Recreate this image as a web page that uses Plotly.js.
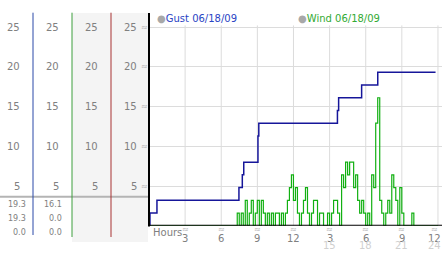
<!DOCTYPE html>
<html><head><meta charset="utf-8">
<script src="https://cdn.plot.ly/plotly-3.0.1.min.js"></script>
<style>html,body{margin:0;padding:0;background:#fff}#chart{width:442px;height:253px}</style>
</head><body><div id="chart"></div>
<script>
// ---- data ----
const gustLabel = 'Gust 06/18/09';
const windLabel = 'Wind 06/18/09';
const gustHours  = [0, 0.08, 0.66, 7.47, 7.75, 7.87, 9.05, 9.12, 15.65, 15.75, 17.66, 19.0, 23.8];
const gustValues = [0, 1.6, 3.2, 4.8, 6.4, 8.0, 11.3, 12.9, 14.5, 16.1, 17.7, 19.3, 19.3];
const windStartHour = 7.33;      // first sample of the 10-minute record
const windStepHours = 1 / 6;     // 10-minute sampling
const windValues = [
  1.6, 0, 1.6, 0, 3.2, 0, 1.6, 3.2, 0, 1.6, 3.2, 0, 3.2, 1.6, 0, 1.6, 0, 1.6, 0, 1.6,
  1.6, 0, 1.6, 0, 1.6, 3.2, 4.8, 6.4, 3.2, 4.8, 1.6, 0, 1.6, 3.2, 4.8, 1.6, 0, 1.6, 3.2, 3.2,
  0, 1.6, 1.6, 0, 0, 1.6, 0, 1.6, 3.2, 3.2, 1.6, 0, 6.4, 4.8, 8.0, 6.4, 8.0, 8.0, 4.8, 6.4,
  3.2, 1.6, 3.2, 1.6, 0, 1.6, 0, 6.4, 4.8, 12.9, 16.1, 3.2, 1.6, 0, 1.6, 3.2, 1.6, 6.4, 4.8, 3.2,
  0, 4.8, 1.6, 0, 0, 0, 0, 1.6, 0
];
const dayStartHour = 0, dayEndHour = 24;
const xTickVals = [3, 6, 9, 12, 15, 18, 21, 24];
const xTickText = ['3', '6', '9', '12', '3', '6', '9', '12'];
const x24TickVals = [15, 18, 21, 24];
const x24TickText = ['15', '18', '21', '24'];
const yTickVals = [5, 10, 15, 20, 25];
const yTickText = ['5', '10', '15', '20', '25'];

// ---- build ----
const windHours = [dayStartHour];
const windAll = [0];
windValues.forEach((v, i) => { windHours.push(windStartHour + i * windStepHours); windAll.push(v); });
windHours.push(dayEndHour); windAll.push(0);

const W = 442, H = 253;
const px = x => x / W;
const py = y => 1 - y / H;
const FONT = 'DejaVu Sans';
const gray = '#808080';

const stat = arr => [Math.max(...arr), arr[arr.length - 1], Math.min(...arr)];
const gustStats = stat(gustValues);
const windStats = stat(windAll);

const annotations = [];
// left panel column labels (4 columns)
const colRight = [21, 60, 99, 138];
colRight.forEach(r => {
  yTickVals.forEach((v, i) => annotations.push({
    xref: 'paper', yref: 'y', x: px(r), y: v, xanchor: 'right', yanchor: 'middle',
    text: yTickText[i], showarrow: false, borderpad: 0,
    font: {family: FONT, size: 10, color: gray}
  }));
});
// small marks next to y labels
yTickVals.forEach(v => annotations.push({
  xref: 'paper', yref: 'y', x: px(144.5), y: v, xanchor: 'center', yanchor: 'middle',
  text: '≈', showarrow: false, borderpad: 0, font: {family: FONT, size: 8, color: '#b0b0b0'}
}));
// hour tick labels with small marks above, second row (15..24) below
const lastTick = xTickVals[xTickVals.length - 1];
xTickVals.forEach((v, i) => {
  const shift = v === lastTick ? -3 : 0;
  annotations.push({
    xref: 'x', yref: 'paper', x: v, xshift: shift, y: py(229.5), xanchor: 'center', yanchor: 'middle',
    text: '≈', showarrow: false, borderpad: 0, font: {family: FONT, size: 8, color: '#b0b0b0'}});
  annotations.push({
    xref: 'x', yref: 'paper', x: v, xshift: shift, y: py(238.3), xanchor: 'center', yanchor: 'middle',
    text: xTickText[i], showarrow: false, borderpad: 0, font: {family: FONT, size: 10, color: gray}});
});
x24TickVals.forEach((v, i) => annotations.push({
  xref: 'x', yref: 'paper', x: v, xshift: v === lastTick ? -3 : 0, y: py(245.8), xanchor: 'center', yanchor: 'middle',
  text: x24TickText[i], showarrow: false, borderpad: 0, font: {family: FONT, size: 10, color: '#d0d0d0'}
}));
// stats rows
const statRowsY = [204.7, 218.3, 232.8];
statRowsY.forEach((yy, i) => {
  annotations.push({xref: 'paper', yref: 'paper', x: px(27), y: py(yy), xanchor: 'right', yanchor: 'middle',
    text: gustStats[i].toFixed(1), showarrow: false, borderpad: 0, font: {family: FONT, size: 8, color: gray}});
  annotations.push({xref: 'paper', yref: 'paper', x: px(63.5), y: py(yy), xanchor: 'right', yanchor: 'middle',
    text: windStats[i].toFixed(1), showarrow: false, borderpad: 0, font: {family: FONT, size: 8, color: gray}});
});
// Hours label
annotations.push({xref: 'paper', yref: 'paper', x: px(152), y: py(232), xanchor: 'left', yanchor: 'middle',
  text: 'Hours', showarrow: false, borderpad: 0, font: {family: FONT, size: 10, color: gray}});
// legend
annotations.push({xref: 'paper', yref: 'paper', x: px(156), y: py(18.5), xanchor: 'left', yanchor: 'middle',
  text: '<span style="color:#a8a8a8">●</span>' + gustLabel, showarrow: false, borderpad: 0,
  font: {family: FONT, size: 10, color: '#2a44c4'}});
annotations.push({xref: 'paper', yref: 'paper', x: px(297), y: py(18.5), xanchor: 'left', yanchor: 'middle',
  text: '<span style="color:#a8a8a8">●</span>' + windLabel, showarrow: false, borderpad: 0,
  font: {family: FONT, size: 10, color: '#33aa33'}});

const shapes = [];
// gray background of columns 3-4
shapes.push({type: 'rect', xref: 'paper', yref: 'paper', x0: px(72), x1: px(148), y0: py(242), y1: py(13),
  fillcolor: '#f4f4f4', line: {width: 0}, layer: 'below'});
// separator line in left panel
shapes.push({type: 'line', xref: 'paper', yref: 'paper', x0: 0, x1: px(149), y0: py(196.8), y1: py(196.8),
  line: {color: '#b4b4b4', width: 2}});
// column dividers
[[33, '#2a48a8', 235], [72, '#3c9e3c', 237], [111, '#a83232', 237]].forEach(([x, c, yb]) => shapes.push({
  type: 'line', xref: 'paper', yref: 'paper', x0: px(x), x1: px(x), y0: py(12.7), y1: py(yb),
  line: {color: c, width: 1}}));
// vertical grid lines
xTickVals.forEach(v => shapes.push({type: 'line', xref: 'x', yref: 'y', x0: v, x1: v, y0: 0, y1: 25.2,
  line: {color: '#dcdcdc', width: 1}, layer: 'below'}));
// axis lines
shapes.push({type: 'line', xref: 'paper', yref: 'paper', x0: px(149), x1: px(149), y0: py(13), y1: py(226.5),
  line: {color: '#000', width: 2}});
shapes.push({type: 'line', xref: 'paper', yref: 'y', x0: px(148), x1: 1, y0: 0, y1: 0,
  line: {color: '#000', width: 2}});

const traces = [
  {x: windHours, y: windAll, type: 'scatter', mode: 'lines', line: {shape: 'hv', color: '#12b012', width: 1.2},
   name: windLabel, hoverinfo: 'skip', cliponaxis: false},
  {x: gustHours, y: gustValues, type: 'scatter', mode: 'lines', line: {shape: 'hv', color: '#16169a', width: 1.5},
   name: gustLabel, hoverinfo: 'skip', cliponaxis: false}
];

const layout = {
  width: W, height: H, margin: {l: 0, r: 0, t: 0, b: 0, autoexpand: false},
  paper_bgcolor: '#fff', plot_bgcolor: 'rgba(0,0,0,0)', showlegend: false,
  xaxis: {domain: [px(149), 1], range: [0, 293 / 12.04], showgrid: false, zeroline: false, showline: false,
    tickvals: xTickVals, showticklabels: false, ticks: '', automargin: false, fixedrange: true},
  yaxis: {domain: [py(225.75), py(13)], range: [0, (225.75 - 13) / 7.95], tickvals: yTickVals,
    showticklabels: false, ticks: '', showgrid: true, gridcolor: '#dcdcdc', gridwidth: 1,
    zeroline: false, showline: false, fixedrange: true},
  annotations: annotations, shapes: shapes
};

Plotly.newPlot('chart', traces, layout, {staticPlot: true, displayModeBar: false});
</script></body></html>
